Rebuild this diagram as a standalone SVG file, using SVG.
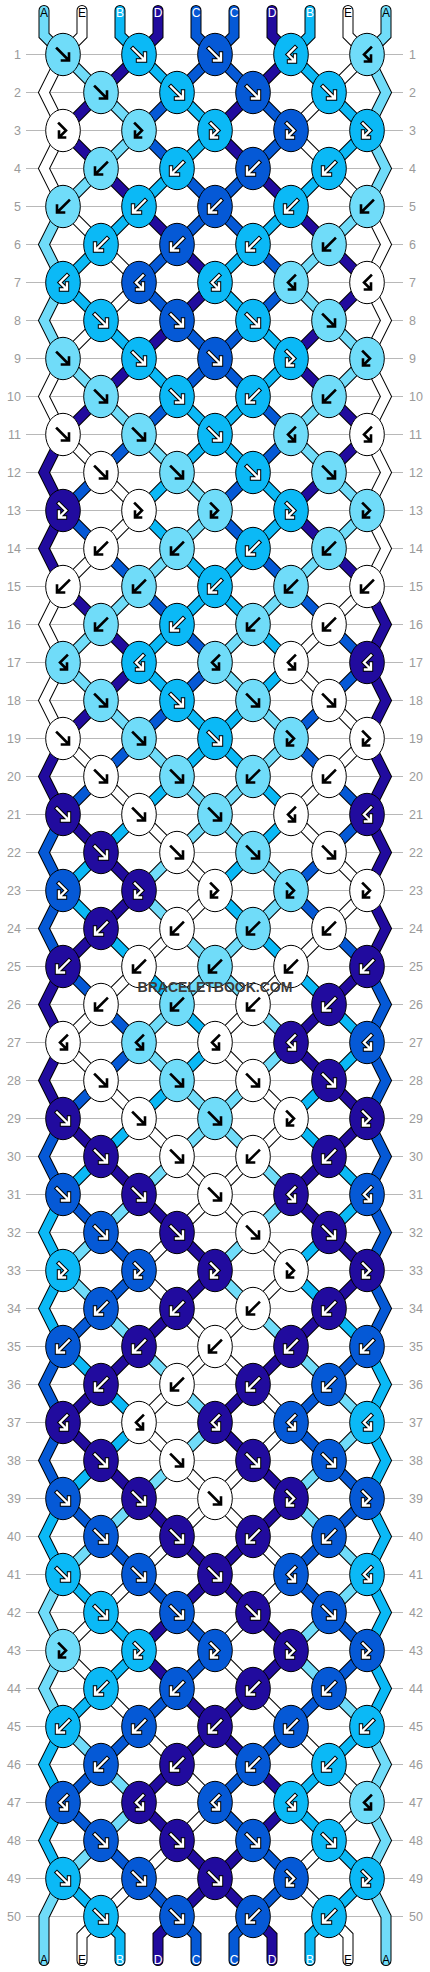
<svg xmlns="http://www.w3.org/2000/svg" xmlns:xlink="http://www.w3.org/1999/xlink" width="430" height="1972" viewBox="0 0 430 1972">
<style>
text{font-family:"Liberation Sans",Arial,sans-serif}
.rn{font-size:12.5px;fill:#9a9a9a}
.lab{font-size:12px;text-anchor:middle}
.to{fill:none;stroke:#000;stroke-width:11;stroke-linecap:round;stroke-linejoin:miter}
.tL{fill:none;stroke:#70dcf9;stroke-width:9;stroke-linecap:round}
.tW{fill:none;stroke:#fff;stroke-width:9;stroke-linecap:round}
.tS{fill:none;stroke:#0bb9f6;stroke-width:9;stroke-linecap:round}
.tM{fill:none;stroke:#0559d6;stroke-width:9;stroke-linecap:round}
.tI{fill:none;stroke:#210b9e;stroke-width:9;stroke-linecap:round}
.k{fill:none;stroke:#000;stroke-width:2.6;stroke-linecap:square}
.o{fill:none;stroke:#000;stroke-width:4.4;stroke-linecap:square}
.w{fill:none;stroke:#fff;stroke-width:2.4;stroke-linecap:square}
</style>
<defs>
<path id="s0" d="M44 10V35L63 54 101 92 139 130 101 168 63 206 44 244 63 282 44 320 63 358 101 396 139 434 177 472 215 510 177 548 139 586 101 624 63 662 101 700 139 738 177 776 215 814 253 852 291 890 253 928 215 966 177 1004 139 1042 177 1080 215 1118 253 1156 291 1194 253 1232 215 1270 253 1308 291 1346 329 1384 367 1422 329 1460 291 1498 329 1536 367 1574 329 1612 291 1650 329 1688 367 1726 386 1764 367 1802 386 1840 367 1878 386 1916V1960"/>
<path id="s1" d="M82 10V35L63 54 44 92 63 130 44 168 63 206 101 244 139 282 101 320 63 358 44 396 63 434 101 472 139 510 101 548 63 586 44 624 63 662 44 700 63 738 101 776 139 814 177 852 215 890 177 928 139 966 101 1004 63 1042 101 1080 139 1118 177 1156 215 1194 253 1232 291 1270 253 1308 215 1346 177 1384 139 1422 177 1460 215 1498 253 1536 291 1574 253 1612 215 1650 253 1688 291 1726 329 1764 367 1802 329 1840 291 1878 329 1916 348 1935V1960"/>
<path id="s2" d="M120 10V35L139 54 177 92 215 130 177 168 139 206 101 244 63 282 101 320 139 358 177 396 215 434 253 472 291 510 253 548 215 586 177 624 139 662 177 700 215 738 253 776 291 814 253 852 215 890 253 928 291 966 329 1004 367 1042 329 1080 291 1118 329 1156 367 1194 329 1232 291 1270 329 1308 367 1346 386 1384 367 1422 386 1460 367 1498 386 1536 367 1574 386 1612 367 1650 386 1688 367 1726 329 1764 291 1802 329 1840 367 1878 329 1916 310 1935V1960"/>
<path id="s3" d="M158 10V35L139 54 101 92 63 130 101 168 139 206 177 244 215 282 177 320 139 358 101 396 63 434 44 472 63 510 44 548 63 586 101 624 139 662 101 700 63 738 44 776 63 814 101 852 139 890 101 928 63 966 44 1004 63 1042 44 1080 63 1118 101 1156 139 1194 177 1232 215 1270 177 1308 139 1346 101 1384 63 1422 101 1460 139 1498 177 1536 215 1574 253 1612 291 1650 253 1688 215 1726 177 1764 139 1802 177 1840 215 1878 253 1916 272 1935V1960"/>
<path id="s4" d="M196 10V35L215 54 253 92 291 130 253 168 215 206 177 244 139 282 177 320 215 358 253 396 291 434 253 472 215 510 253 548 291 586 329 624 367 662 329 700 291 738 329 776 367 814 329 852 291 890 329 928 367 966 386 1004 367 1042 386 1080 367 1118 386 1156 367 1194 386 1232 367 1270 386 1308 367 1346 329 1384 291 1422 329 1460 367 1498 329 1536 291 1574 329 1612 367 1650 329 1688 291 1726 253 1764 215 1802 253 1840 291 1878 253 1916 234 1935V1960"/>
<path id="s5" d="M234 10V35L215 54 177 92 139 130 177 168 215 206 253 244 291 282 253 320 215 358 177 396 139 434 101 472 63 510 101 548 139 586 177 624 215 662 177 700 139 738 101 776 63 814 44 852 63 890 44 928 63 966 101 1004 139 1042 101 1080 63 1118 44 1156 63 1194 101 1232 139 1270 101 1308 63 1346 44 1384 63 1422 44 1460 63 1498 101 1536 139 1574 177 1612 215 1650 177 1688 139 1726 101 1764 63 1802 101 1840 139 1878 177 1916 196 1935V1960"/>
<path id="s6" d="M272 10V35L291 54 253 92 215 130 253 168 291 206 329 244 367 282 329 320 291 358 329 396 367 434 329 472 291 510 329 548 367 586 386 624 367 662 386 700 367 738 386 776 367 814 386 852 367 890 386 928 367 966 329 1004 291 1042 329 1080 367 1118 329 1156 291 1194 329 1232 367 1270 329 1308 291 1346 253 1384 215 1422 253 1460 291 1498 253 1536 215 1574 177 1612 139 1650 177 1688 215 1726 253 1764 291 1802 253 1840 215 1878 177 1916 158 1935V1960"/>
<path id="s7" d="M310 10V35L291 54 329 92 367 130 329 168 291 206 253 244 215 282 253 320 291 358 253 396 215 434 177 472 139 510 177 548 215 586 253 624 291 662 253 700 215 738 177 776 139 814 101 852 63 890 101 928 139 966 177 1004 215 1042 177 1080 139 1118 101 1156 63 1194 44 1232 63 1270 44 1308 63 1346 101 1384 139 1422 101 1460 63 1498 44 1536 63 1574 101 1612 139 1650 101 1688 63 1726 44 1764 63 1802 44 1840 63 1878 101 1916 120 1935V1960"/>
<path id="s8" d="M348 10V35L367 54 329 92 291 130 329 168 367 206 386 244 367 282 386 320 367 358 386 396 367 434 386 472 367 510 386 548 367 586 329 624 291 662 329 700 367 738 329 776 291 814 329 852 367 890 329 928 291 966 253 1004 215 1042 253 1080 291 1118 253 1156 215 1194 177 1232 139 1270 177 1308 215 1346 253 1384 291 1422 253 1460 215 1498 177 1536 139 1574 101 1612 63 1650 101 1688 139 1726 177 1764 215 1802 177 1840 139 1878 101 1916 82 1935V1960"/>
<path id="s9" d="M386 10V35L367 54 386 92 367 130 386 168 367 206 329 244 291 282 329 320 367 358 329 396 291 434 329 472 367 510 329 548 291 586 253 624 215 662 253 700 291 738 253 776 215 814 177 852 139 890 177 928 215 966 253 1004 291 1042 253 1080 215 1118 177 1156 139 1194 101 1232 63 1270 101 1308 139 1346 177 1384 215 1422 177 1460 139 1498 101 1536 63 1574 44 1612 63 1650 44 1688 63 1726 101 1764 139 1802 101 1840 63 1878 44 1916V1960"/>
<ellipse id="e" rx="17.3" ry="21.2" stroke="#000" stroke-width="1"/>
<path id="f" d="M-6-6 4.5 4.5M6-1V6H-1"/>
<path id="b" d="M6-6-4.5 4.5M-6-1V6H1"/>
<path id="fb" d="M-4-7 3 0-2.5 5.5M-4 1V7H2"/>
<path id="bf" d="M4-7-3 0 2.5 5.5M4 1V7H-2"/>
<g id="Lf"><use href="#e" fill="#70dcf9"/><use href="#f" class="k"/></g>
<g id="Lb"><use href="#e" fill="#70dcf9"/><use href="#b" class="k"/></g>
<g id="Lfb"><use href="#e" fill="#70dcf9"/><use href="#fb" class="k"/></g>
<g id="Lbf"><use href="#e" fill="#70dcf9"/><use href="#bf" class="k"/></g>
<g id="Wf"><use href="#e" fill="#fff"/><use href="#f" class="k"/></g>
<g id="Wb"><use href="#e" fill="#fff"/><use href="#b" class="k"/></g>
<g id="Wfb"><use href="#e" fill="#fff"/><use href="#fb" class="k"/></g>
<g id="Wbf"><use href="#e" fill="#fff"/><use href="#bf" class="k"/></g>
<g id="Sf"><use href="#e" fill="#0bb9f6"/><use href="#f" class="o"/><use href="#f" class="w"/></g>
<g id="Sb"><use href="#e" fill="#0bb9f6"/><use href="#b" class="o"/><use href="#b" class="w"/></g>
<g id="Sfb"><use href="#e" fill="#0bb9f6"/><use href="#fb" class="o"/><use href="#fb" class="w"/></g>
<g id="Sbf"><use href="#e" fill="#0bb9f6"/><use href="#bf" class="o"/><use href="#bf" class="w"/></g>
<g id="Mf"><use href="#e" fill="#0559d6"/><use href="#f" class="o"/><use href="#f" class="w"/></g>
<g id="Mb"><use href="#e" fill="#0559d6"/><use href="#b" class="o"/><use href="#b" class="w"/></g>
<g id="Mfb"><use href="#e" fill="#0559d6"/><use href="#fb" class="o"/><use href="#fb" class="w"/></g>
<g id="Mbf"><use href="#e" fill="#0559d6"/><use href="#bf" class="o"/><use href="#bf" class="w"/></g>
<g id="If"><use href="#e" fill="#210b9e"/><use href="#f" class="o"/><use href="#f" class="w"/></g>
<g id="Ib"><use href="#e" fill="#210b9e"/><use href="#b" class="o"/><use href="#b" class="w"/></g>
<g id="Ifb"><use href="#e" fill="#210b9e"/><use href="#fb" class="o"/><use href="#fb" class="w"/></g>
<g id="Ibf"><use href="#e" fill="#210b9e"/><use href="#bf" class="o"/><use href="#bf" class="w"/></g>
</defs>
<rect width="430" height="1972" fill="#fff"/>
<g transform="translate(0 .5)">
<path id="row-lines" fill="none" stroke="#b8b8b8" stroke-width="1" d="M26 54h377m-377 38h377m-377 38h377m-377 38h377m-377 38h377m-377 38h377m-377 38h377m-377 38h377m-377 38h377m-377 38h377m-377 38h377m-377 38h377m-377 38h377m-377 38h377m-377 38h377m-377 38h377m-377 38h377m-377 38h377m-377 38h377m-377 38h377m-377 38h377m-377 38h377m-377 38h377m-377 38h377m-377 38h377m-377 38h377m-377 38h377m-377 38h377m-377 38h377m-377 38h377m-377 38h377m-377 38h377m-377 38h377m-377 38h377m-377 38h377m-377 38h377m-377 38h377m-377 38h377m-377 38h377m-377 38h377m-377 38h377m-377 38h377m-377 38h377m-377 38h377m-377 38h377m-377 38h377m-377 38h377m-377 38h377m-377 38h377m-377 38h377"/>
<text id="row-numbers-left" class="rn" text-anchor="end"><tspan x="21" y="58.5">1</tspan><tspan x="21" dy="38">2</tspan><tspan x="21" dy="38">3</tspan><tspan x="21" dy="38">4</tspan><tspan x="21" dy="38">5</tspan><tspan x="21" dy="38">6</tspan><tspan x="21" dy="38">7</tspan><tspan x="21" dy="38">8</tspan><tspan x="21" dy="38">9</tspan><tspan x="21" dy="38">10</tspan><tspan x="21" dy="38">11</tspan><tspan x="21" dy="38">12</tspan><tspan x="21" dy="38">13</tspan><tspan x="21" dy="38">14</tspan><tspan x="21" dy="38">15</tspan><tspan x="21" dy="38">16</tspan><tspan x="21" dy="38">17</tspan><tspan x="21" dy="38">18</tspan><tspan x="21" dy="38">19</tspan><tspan x="21" dy="38">20</tspan><tspan x="21" dy="38">21</tspan><tspan x="21" dy="38">22</tspan><tspan x="21" dy="38">23</tspan><tspan x="21" dy="38">24</tspan><tspan x="21" dy="38">25</tspan><tspan x="21" dy="38">26</tspan><tspan x="21" dy="38">27</tspan><tspan x="21" dy="38">28</tspan><tspan x="21" dy="38">29</tspan><tspan x="21" dy="38">30</tspan><tspan x="21" dy="38">31</tspan><tspan x="21" dy="38">32</tspan><tspan x="21" dy="38">33</tspan><tspan x="21" dy="38">34</tspan><tspan x="21" dy="38">35</tspan><tspan x="21" dy="38">36</tspan><tspan x="21" dy="38">37</tspan><tspan x="21" dy="38">38</tspan><tspan x="21" dy="38">39</tspan><tspan x="21" dy="38">40</tspan><tspan x="21" dy="38">41</tspan><tspan x="21" dy="38">42</tspan><tspan x="21" dy="38">43</tspan><tspan x="21" dy="38">44</tspan><tspan x="21" dy="38">45</tspan><tspan x="21" dy="38">46</tspan><tspan x="21" dy="38">47</tspan><tspan x="21" dy="38">48</tspan><tspan x="21" dy="38">49</tspan><tspan x="21" dy="38">50</tspan></text>
<text id="row-numbers-right" class="rn"><tspan x="409" y="58.5">1</tspan><tspan x="409" dy="38">2</tspan><tspan x="409" dy="38">3</tspan><tspan x="409" dy="38">4</tspan><tspan x="409" dy="38">5</tspan><tspan x="409" dy="38">6</tspan><tspan x="409" dy="38">7</tspan><tspan x="409" dy="38">8</tspan><tspan x="409" dy="38">9</tspan><tspan x="409" dy="38">10</tspan><tspan x="409" dy="38">11</tspan><tspan x="409" dy="38">12</tspan><tspan x="409" dy="38">13</tspan><tspan x="409" dy="38">14</tspan><tspan x="409" dy="38">15</tspan><tspan x="409" dy="38">16</tspan><tspan x="409" dy="38">17</tspan><tspan x="409" dy="38">18</tspan><tspan x="409" dy="38">19</tspan><tspan x="409" dy="38">20</tspan><tspan x="409" dy="38">21</tspan><tspan x="409" dy="38">22</tspan><tspan x="409" dy="38">23</tspan><tspan x="409" dy="38">24</tspan><tspan x="409" dy="38">25</tspan><tspan x="409" dy="38">26</tspan><tspan x="409" dy="38">27</tspan><tspan x="409" dy="38">28</tspan><tspan x="409" dy="38">29</tspan><tspan x="409" dy="38">30</tspan><tspan x="409" dy="38">31</tspan><tspan x="409" dy="38">32</tspan><tspan x="409" dy="38">33</tspan><tspan x="409" dy="38">34</tspan><tspan x="409" dy="38">35</tspan><tspan x="409" dy="38">36</tspan><tspan x="409" dy="38">37</tspan><tspan x="409" dy="38">38</tspan><tspan x="409" dy="38">39</tspan><tspan x="409" dy="38">40</tspan><tspan x="409" dy="38">41</tspan><tspan x="409" dy="38">42</tspan><tspan x="409" dy="38">43</tspan><tspan x="409" dy="38">44</tspan><tspan x="409" dy="38">45</tspan><tspan x="409" dy="38">46</tspan><tspan x="409" dy="38">47</tspan><tspan x="409" dy="38">48</tspan><tspan x="409" dy="38">49</tspan><tspan x="409" dy="38">50</tspan></text>
<g id="connectors">
<use href="#s0" class="to"/><use href="#s0" class="tL"/>
<use href="#s1" class="to"/><use href="#s1" class="tW"/>
<use href="#s2" class="to"/><use href="#s2" class="tS"/>
<use href="#s3" class="to"/><use href="#s3" class="tI"/>
<use href="#s4" class="to"/><use href="#s4" class="tM"/>
<use href="#s5" class="to"/><use href="#s5" class="tM"/>
<use href="#s6" class="to"/><use href="#s6" class="tI"/>
<use href="#s7" class="to"/><use href="#s7" class="tS"/>
<use href="#s8" class="to"/><use href="#s8" class="tW"/>
<use href="#s9" class="to"/><use href="#s9" class="tL"/>
</g>
<g id="knots">
<g id="k1-1"><use href="#Lf" x="63" y="54"/></g><g id="k1-2"><use href="#Sf" x="139" y="54"/></g><g id="k1-3"><use href="#Mf" x="215" y="54"/></g><g id="k1-4"><use href="#Sbf" x="291" y="54"/></g><g id="k1-5"><use href="#Lbf" x="367" y="54"/></g>
<g id="k2-1"><use href="#Lf" x="101" y="92"/></g><g id="k2-2"><use href="#Sf" x="177" y="92"/></g><g id="k2-3"><use href="#Mf" x="253" y="92"/></g><g id="k2-4"><use href="#Sf" x="329" y="92"/></g>
<g id="k3-1"><use href="#Wfb" x="63" y="130"/></g><g id="k3-2"><use href="#Lfb" x="139" y="130"/></g><g id="k3-3"><use href="#Sfb" x="215" y="130"/></g><g id="k3-4"><use href="#Mfb" x="291" y="130"/></g><g id="k3-5"><use href="#Sfb" x="367" y="130"/></g>
<g id="k4-1"><use href="#Lb" x="101" y="168"/></g><g id="k4-2"><use href="#Sb" x="177" y="168"/></g><g id="k4-3"><use href="#Mb" x="253" y="168"/></g><g id="k4-4"><use href="#Sb" x="329" y="168"/></g>
<g id="k5-1"><use href="#Lb" x="63" y="206"/></g><g id="k5-2"><use href="#Sb" x="139" y="206"/></g><g id="k5-3"><use href="#Mb" x="215" y="206"/></g><g id="k5-4"><use href="#Sb" x="291" y="206"/></g><g id="k5-5"><use href="#Lb" x="367" y="206"/></g>
<g id="k6-1"><use href="#Sb" x="101" y="244"/></g><g id="k6-2"><use href="#Mb" x="177" y="244"/></g><g id="k6-3"><use href="#Sb" x="253" y="244"/></g><g id="k6-4"><use href="#Lb" x="329" y="244"/></g>
<g id="k7-1"><use href="#Sbf" x="63" y="282"/></g><g id="k7-2"><use href="#Mbf" x="139" y="282"/></g><g id="k7-3"><use href="#Sbf" x="215" y="282"/></g><g id="k7-4"><use href="#Lbf" x="291" y="282"/></g><g id="k7-5"><use href="#Wbf" x="367" y="282"/></g>
<g id="k8-1"><use href="#Sf" x="101" y="320"/></g><g id="k8-2"><use href="#Mf" x="177" y="320"/></g><g id="k8-3"><use href="#Sf" x="253" y="320"/></g><g id="k8-4"><use href="#Lf" x="329" y="320"/></g>
<g id="k9-1"><use href="#Lf" x="63" y="358"/></g><g id="k9-2"><use href="#Sf" x="139" y="358"/></g><g id="k9-3"><use href="#Mf" x="215" y="358"/></g><g id="k9-4"><use href="#Sfb" x="291" y="358"/></g><g id="k9-5"><use href="#Lfb" x="367" y="358"/></g>
<g id="k10-1"><use href="#Lf" x="101" y="396"/></g><g id="k10-2"><use href="#Sf" x="177" y="396"/></g><g id="k10-3"><use href="#Sb" x="253" y="396"/></g><g id="k10-4"><use href="#Lb" x="329" y="396"/></g>
<g id="k11-1"><use href="#Wf" x="63" y="434"/></g><g id="k11-2"><use href="#Lf" x="139" y="434"/></g><g id="k11-3"><use href="#Sf" x="215" y="434"/></g><g id="k11-4"><use href="#Lbf" x="291" y="434"/></g><g id="k11-5"><use href="#Wbf" x="367" y="434"/></g>
<g id="k12-1"><use href="#Wf" x="101" y="472"/></g><g id="k12-2"><use href="#Lf" x="177" y="472"/></g><g id="k12-3"><use href="#Sf" x="253" y="472"/></g><g id="k12-4"><use href="#Lf" x="329" y="472"/></g>
<g id="k13-1"><use href="#Ifb" x="63" y="510"/></g><g id="k13-2"><use href="#Wfb" x="139" y="510"/></g><g id="k13-3"><use href="#Lfb" x="215" y="510"/></g><g id="k13-4"><use href="#Sfb" x="291" y="510"/></g><g id="k13-5"><use href="#Lfb" x="367" y="510"/></g>
<g id="k14-1"><use href="#Wb" x="101" y="548"/></g><g id="k14-2"><use href="#Lb" x="177" y="548"/></g><g id="k14-3"><use href="#Sb" x="253" y="548"/></g><g id="k14-4"><use href="#Lb" x="329" y="548"/></g>
<g id="k15-1"><use href="#Wb" x="63" y="586"/></g><g id="k15-2"><use href="#Lb" x="139" y="586"/></g><g id="k15-3"><use href="#Sb" x="215" y="586"/></g><g id="k15-4"><use href="#Lb" x="291" y="586"/></g><g id="k15-5"><use href="#Wb" x="367" y="586"/></g>
<g id="k16-1"><use href="#Lb" x="101" y="624"/></g><g id="k16-2"><use href="#Sb" x="177" y="624"/></g><g id="k16-3"><use href="#Lb" x="253" y="624"/></g><g id="k16-4"><use href="#Wb" x="329" y="624"/></g>
<g id="k17-1"><use href="#Lbf" x="63" y="662"/></g><g id="k17-2"><use href="#Sbf" x="139" y="662"/></g><g id="k17-3"><use href="#Lbf" x="215" y="662"/></g><g id="k17-4"><use href="#Wbf" x="291" y="662"/></g><g id="k17-5"><use href="#Ibf" x="367" y="662"/></g>
<g id="k18-1"><use href="#Lf" x="101" y="700"/></g><g id="k18-2"><use href="#Sf" x="177" y="700"/></g><g id="k18-3"><use href="#Lf" x="253" y="700"/></g><g id="k18-4"><use href="#Wf" x="329" y="700"/></g>
<g id="k19-1"><use href="#Wf" x="63" y="738"/></g><g id="k19-2"><use href="#Lf" x="139" y="738"/></g><g id="k19-3"><use href="#Sf" x="215" y="738"/></g><g id="k19-4"><use href="#Lfb" x="291" y="738"/></g><g id="k19-5"><use href="#Wfb" x="367" y="738"/></g>
<g id="k20-1"><use href="#Wf" x="101" y="776"/></g><g id="k20-2"><use href="#Lf" x="177" y="776"/></g><g id="k20-3"><use href="#Lb" x="253" y="776"/></g><g id="k20-4"><use href="#Wb" x="329" y="776"/></g>
<g id="k21-1"><use href="#If" x="63" y="814"/></g><g id="k21-2"><use href="#Wf" x="139" y="814"/></g><g id="k21-3"><use href="#Lf" x="215" y="814"/></g><g id="k21-4"><use href="#Wbf" x="291" y="814"/></g><g id="k21-5"><use href="#Ibf" x="367" y="814"/></g>
<g id="k22-1"><use href="#If" x="101" y="852"/></g><g id="k22-2"><use href="#Wf" x="177" y="852"/></g><g id="k22-3"><use href="#Lf" x="253" y="852"/></g><g id="k22-4"><use href="#Wf" x="329" y="852"/></g>
<g id="k23-1"><use href="#Mfb" x="63" y="890"/></g><g id="k23-2"><use href="#Ifb" x="139" y="890"/></g><g id="k23-3"><use href="#Wfb" x="215" y="890"/></g><g id="k23-4"><use href="#Lfb" x="291" y="890"/></g><g id="k23-5"><use href="#Wfb" x="367" y="890"/></g>
<g id="k24-1"><use href="#Ib" x="101" y="928"/></g><g id="k24-2"><use href="#Wb" x="177" y="928"/></g><g id="k24-3"><use href="#Lb" x="253" y="928"/></g><g id="k24-4"><use href="#Wb" x="329" y="928"/></g>
<g id="k25-1"><use href="#Ib" x="63" y="966"/></g><g id="k25-2"><use href="#Wb" x="139" y="966"/></g><g id="k25-3"><use href="#Lb" x="215" y="966"/></g><g id="k25-4"><use href="#Wb" x="291" y="966"/></g><g id="k25-5"><use href="#Ib" x="367" y="966"/></g>
<g id="k26-1"><use href="#Wb" x="101" y="1004"/></g><g id="k26-2"><use href="#Lb" x="177" y="1004"/></g><g id="k26-3"><use href="#Wb" x="253" y="1004"/></g><g id="k26-4"><use href="#Ib" x="329" y="1004"/></g>
<g id="k27-1"><use href="#Wbf" x="63" y="1042"/></g><g id="k27-2"><use href="#Lbf" x="139" y="1042"/></g><g id="k27-3"><use href="#Wbf" x="215" y="1042"/></g><g id="k27-4"><use href="#Ibf" x="291" y="1042"/></g><g id="k27-5"><use href="#Mbf" x="367" y="1042"/></g>
<g id="k28-1"><use href="#Wf" x="101" y="1080"/></g><g id="k28-2"><use href="#Lf" x="177" y="1080"/></g><g id="k28-3"><use href="#Wf" x="253" y="1080"/></g><g id="k28-4"><use href="#If" x="329" y="1080"/></g>
<g id="k29-1"><use href="#If" x="63" y="1118"/></g><g id="k29-2"><use href="#Wf" x="139" y="1118"/></g><g id="k29-3"><use href="#Lf" x="215" y="1118"/></g><g id="k29-4"><use href="#Wfb" x="291" y="1118"/></g><g id="k29-5"><use href="#Ifb" x="367" y="1118"/></g>
<g id="k30-1"><use href="#If" x="101" y="1156"/></g><g id="k30-2"><use href="#Wf" x="177" y="1156"/></g><g id="k30-3"><use href="#Wb" x="253" y="1156"/></g><g id="k30-4"><use href="#Ib" x="329" y="1156"/></g>
<g id="k31-1"><use href="#Mf" x="63" y="1194"/></g><g id="k31-2"><use href="#If" x="139" y="1194"/></g><g id="k31-3"><use href="#Wf" x="215" y="1194"/></g><g id="k31-4"><use href="#Ibf" x="291" y="1194"/></g><g id="k31-5"><use href="#Mbf" x="367" y="1194"/></g>
<g id="k32-1"><use href="#Mf" x="101" y="1232"/></g><g id="k32-2"><use href="#If" x="177" y="1232"/></g><g id="k32-3"><use href="#Wf" x="253" y="1232"/></g><g id="k32-4"><use href="#If" x="329" y="1232"/></g>
<g id="k33-1"><use href="#Sfb" x="63" y="1270"/></g><g id="k33-2"><use href="#Mfb" x="139" y="1270"/></g><g id="k33-3"><use href="#Ifb" x="215" y="1270"/></g><g id="k33-4"><use href="#Wfb" x="291" y="1270"/></g><g id="k33-5"><use href="#Ifb" x="367" y="1270"/></g>
<g id="k34-1"><use href="#Mb" x="101" y="1308"/></g><g id="k34-2"><use href="#Ib" x="177" y="1308"/></g><g id="k34-3"><use href="#Wb" x="253" y="1308"/></g><g id="k34-4"><use href="#Ib" x="329" y="1308"/></g>
<g id="k35-1"><use href="#Mb" x="63" y="1346"/></g><g id="k35-2"><use href="#Ib" x="139" y="1346"/></g><g id="k35-3"><use href="#Wb" x="215" y="1346"/></g><g id="k35-4"><use href="#Ib" x="291" y="1346"/></g><g id="k35-5"><use href="#Mb" x="367" y="1346"/></g>
<g id="k36-1"><use href="#Ib" x="101" y="1384"/></g><g id="k36-2"><use href="#Wb" x="177" y="1384"/></g><g id="k36-3"><use href="#Ib" x="253" y="1384"/></g><g id="k36-4"><use href="#Mb" x="329" y="1384"/></g>
<g id="k37-1"><use href="#Ibf" x="63" y="1422"/></g><g id="k37-2"><use href="#Wbf" x="139" y="1422"/></g><g id="k37-3"><use href="#Ibf" x="215" y="1422"/></g><g id="k37-4"><use href="#Mbf" x="291" y="1422"/></g><g id="k37-5"><use href="#Sbf" x="367" y="1422"/></g>
<g id="k38-1"><use href="#If" x="101" y="1460"/></g><g id="k38-2"><use href="#Wf" x="177" y="1460"/></g><g id="k38-3"><use href="#If" x="253" y="1460"/></g><g id="k38-4"><use href="#Mf" x="329" y="1460"/></g>
<g id="k39-1"><use href="#Mf" x="63" y="1498"/></g><g id="k39-2"><use href="#If" x="139" y="1498"/></g><g id="k39-3"><use href="#Wf" x="215" y="1498"/></g><g id="k39-4"><use href="#Ifb" x="291" y="1498"/></g><g id="k39-5"><use href="#Mfb" x="367" y="1498"/></g>
<g id="k40-1"><use href="#Mf" x="101" y="1536"/></g><g id="k40-2"><use href="#If" x="177" y="1536"/></g><g id="k40-3"><use href="#Ib" x="253" y="1536"/></g><g id="k40-4"><use href="#Mb" x="329" y="1536"/></g>
<g id="k41-1"><use href="#Sf" x="63" y="1574"/></g><g id="k41-2"><use href="#Mf" x="139" y="1574"/></g><g id="k41-3"><use href="#If" x="215" y="1574"/></g><g id="k41-4"><use href="#Mbf" x="291" y="1574"/></g><g id="k41-5"><use href="#Sbf" x="367" y="1574"/></g>
<g id="k42-1"><use href="#Sf" x="101" y="1612"/></g><g id="k42-2"><use href="#Mf" x="177" y="1612"/></g><g id="k42-3"><use href="#If" x="253" y="1612"/></g><g id="k42-4"><use href="#Mf" x="329" y="1612"/></g>
<g id="k43-1"><use href="#Lfb" x="63" y="1650"/></g><g id="k43-2"><use href="#Sfb" x="139" y="1650"/></g><g id="k43-3"><use href="#Mfb" x="215" y="1650"/></g><g id="k43-4"><use href="#Ifb" x="291" y="1650"/></g><g id="k43-5"><use href="#Mfb" x="367" y="1650"/></g>
<g id="k44-1"><use href="#Sb" x="101" y="1688"/></g><g id="k44-2"><use href="#Mb" x="177" y="1688"/></g><g id="k44-3"><use href="#Ib" x="253" y="1688"/></g><g id="k44-4"><use href="#Mb" x="329" y="1688"/></g>
<g id="k45-1"><use href="#Sb" x="63" y="1726"/></g><g id="k45-2"><use href="#Mb" x="139" y="1726"/></g><g id="k45-3"><use href="#Ib" x="215" y="1726"/></g><g id="k45-4"><use href="#Mb" x="291" y="1726"/></g><g id="k45-5"><use href="#Sb" x="367" y="1726"/></g>
<g id="k46-1"><use href="#Mb" x="101" y="1764"/></g><g id="k46-2"><use href="#Ib" x="177" y="1764"/></g><g id="k46-3"><use href="#Mb" x="253" y="1764"/></g><g id="k46-4"><use href="#Sb" x="329" y="1764"/></g>
<g id="k47-1"><use href="#Mbf" x="63" y="1802"/></g><g id="k47-2"><use href="#Ibf" x="139" y="1802"/></g><g id="k47-3"><use href="#Mbf" x="215" y="1802"/></g><g id="k47-4"><use href="#Sbf" x="291" y="1802"/></g><g id="k47-5"><use href="#Lbf" x="367" y="1802"/></g>
<g id="k48-1"><use href="#Mf" x="101" y="1840"/></g><g id="k48-2"><use href="#If" x="177" y="1840"/></g><g id="k48-3"><use href="#Mf" x="253" y="1840"/></g><g id="k48-4"><use href="#Sf" x="329" y="1840"/></g>
<g id="k49-1"><use href="#Sf" x="63" y="1878"/></g><g id="k49-2"><use href="#Mf" x="139" y="1878"/></g><g id="k49-3"><use href="#If" x="215" y="1878"/></g><g id="k49-4"><use href="#Mfb" x="291" y="1878"/></g><g id="k49-5"><use href="#Sfb" x="367" y="1878"/></g>
<g id="k50-1"><use href="#Sf" x="101" y="1916"/></g><g id="k50-2"><use href="#Mf" x="177" y="1916"/></g><g id="k50-3"><use href="#Mb" x="253" y="1916"/></g><g id="k50-4"><use href="#Sb" x="329" y="1916"/></g>
</g>
<g id="string-labels-top" class="lab">
<text x="44" y="16.5">A</text><text x="82" y="16.5">E</text><text x="120" y="16.5" fill="#fff">B</text><text x="158" y="16.5" fill="#fff">D</text><text x="196" y="16.5" fill="#fff">C</text><text x="234" y="16.5" fill="#fff">C</text><text x="272" y="16.5" fill="#fff">D</text><text x="310" y="16.5" fill="#fff">B</text><text x="348" y="16.5">E</text><text x="386" y="16.5">A</text>
</g>
<g id="string-labels-bottom" class="lab">
<text x="44" y="1963.5">A</text><text x="82" y="1963.5">E</text><text x="120" y="1963.5" fill="#fff">B</text><text x="158" y="1963.5" fill="#fff">D</text><text x="196" y="1963.5" fill="#fff">C</text><text x="234" y="1963.5" fill="#fff">C</text><text x="272" y="1963.5" fill="#fff">D</text><text x="310" y="1963.5" fill="#fff">B</text><text x="348" y="1963.5">E</text><text x="386" y="1963.5">A</text>
</g>
<text id="watermark" x="215" y="991" text-anchor="middle" font-size="14" font-weight="bold" fill="#3c3c3c">BRACELETBOOK.COM</text>
</g>
</svg>
